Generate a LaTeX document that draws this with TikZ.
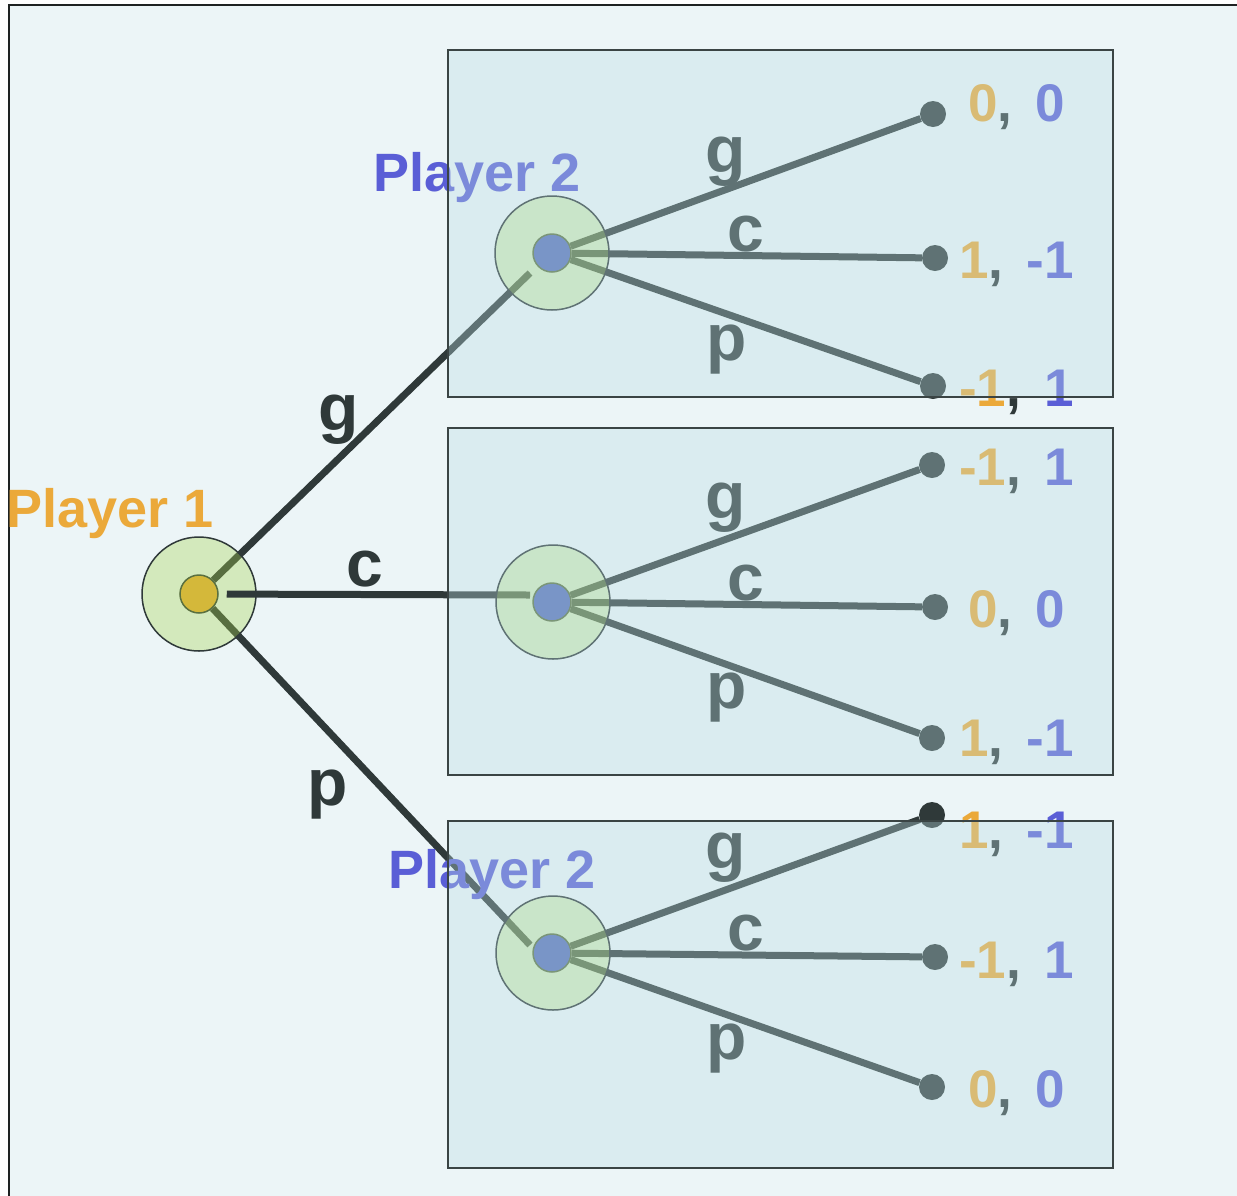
\documentclass[tikz,border=0pt]{standalone}
\usepackage{fontspec}
\setmainfont{Liberation Sans}
\pgfdeclarelayer{back}
\pgfdeclarelayer{lower}
\pgfdeclarelayer{middle}
\pgfdeclarelayer{top}
\pgfsetlayers{back,lower,middle,main,top}

\definecolor{panel}{RGB}{236,245,247}
\definecolor{framecol}{RGB}{30,34,34}
\definecolor{dark}{RGB}{47,57,57}
\definecolor{ringfill}{RGB}{167,211,78}
\definecolor{boxfill}{RGB}{185,222,227}
\definecolor{boxline}{RGB}{58,68,68}
\definecolor{p1col}{RGB}{235,169,58}
\definecolor{p2col}{RGB}{90,94,214}
\definecolor{dotone}{RGB}{212,184,58}
\definecolor{dottwo}{RGB}{88,111,185}
\definecolor{dotline}{RGB}{90,112,64}

\newcommand{\payoffpair}[2]{\textcolor{p1col}{#1}\textcolor{dark}{,}\hspace{23pt}\textcolor{p2col}{#2}}

\tikzset{
  ring/.style={circle, minimum size=114pt, inner sep=0pt, draw=dark, line width=1.5pt,
               fill=ringfill, fill opacity=0.35, draw opacity=1},
  innerdot/.style={circle, minimum size=38pt, inner sep=0pt, draw=dotline, line width=1.5pt},
  leaf/.style={circle, minimum size=26pt, inner sep=0pt, fill=dark},
  edge/.style={draw=dark, line width=7pt},
  playerlab/.style={font=\fontsize{54}{60}\selectfont\bfseries, anchor=base west, inner sep=0pt},
  edgelab/.style={text=dark, font=\fontsize{66}{70}\selectfont\bfseries, anchor=base, inner sep=0pt},
  paylab/.style={font=\fontsize{53}{60}\selectfont\bfseries, anchor=base, inner sep=0pt},
  panelbox/.style={draw=boxline, line width=2pt, fill=boxfill, fill opacity=0.35}
}

\begin{document}
\begin{tikzpicture}[x=1pt,y=-1pt]
\useasboundingbox (0,0) rectangle (1237,1195);
\clip (0,0) rectangle (1237,1195);

% backdrop and frame
\begin{pgfonlayer}{back}
  \fill[white] (0,0) rectangle (1237,1195);
  \fill[panel] (9,5) rectangle (1245,1205);
  \draw[framecol, line width=2.2pt] (9,1205) -- (9,5) -- (1245,5);
\end{pgfonlayer}

% root decision node
\begin{pgfonlayer}{lower}
  \node[ring] (p1) at (199,594) {};
  \node[innerdot, fill=dotone] (p1dot) at (199,594) {};
\end{pgfonlayer}

% second-mover decision nodes
\node[ring] (s1) at (552,253) {};
\node[innerdot, fill=dottwo] (s1dot) at (552,253) {};
\node[ring] (s2) at (553,602) {};
\node[innerdot, fill=dottwo] (s2dot) at (552,602) {};
\node[ring] (s3) at (553,953) {};
\node[innerdot, fill=dottwo] (s3dot) at (552,953) {};

% terminal nodes
\node[leaf] (a1) at (933,114) {};
\node[leaf] (a2) at (935,258) {};
\node[leaf] (a3) at (933,386) {};
\node[leaf] (b1) at (932,465) {};
\node[leaf] (b2) at (935,607) {};
\node[leaf] (b3) at (932,738) {};
\node[leaf] (c1) at (932,815) {};
\node[leaf] (c2) at (935,957) {};
\node[leaf] (c3) at (932,1087) {};

% ends of the root's moves
\coordinate (gend) at (530,273);
\coordinate (cend) at (530,595);
\coordinate (pend) at (530,945);

% moves
\begin{pgfonlayer}{back}
  \draw[edge] (p1dot) -- (gend);
  \draw[edge] (p1dot) -- (pend);
  \draw[edge] (s1dot) -- (a1);
  \draw[edge] (s1dot) -- (a2);
  \draw[edge] (s1dot) -- (a3);
  \draw[edge] (s2dot) -- (b1);
  \draw[edge] (s2dot) -- (b2);
  \draw[edge] (s2dot) -- (b3);
  \draw[edge] (s3dot) -- (c1);
  \draw[edge] (s3dot) -- (c2);
  \draw[edge] (s3dot) -- (c3);
\end{pgfonlayer}
\begin{pgfonlayer}{middle}
  \draw[edge, shorten <=8pt] (p1dot) -- (cend);
\end{pgfonlayer}

% player names
\node[playerlab, text=p1col] (n1) at (6,527) {Player 1};
\node[playerlab, text=p2col] (n2) at (373,191) {Player 2};
\node[playerlab, text=p2col] (n3) at (388,888) {Player 2};

% move labels
\node[edgelab] (lg0) at (339,430) {g};
\node[edgelab] (lc0) at (365,586) {c};
\node[edgelab] (lp0) at (328,805) {p};
\node[edgelab] (lg1) at (726,172) {g};
\node[edgelab] (lc1) at (746,251) {c};
\node[edgelab] (lp1) at (727,360) {p};
\node[edgelab] (lg2) at (726,518) {g};
\node[edgelab] (lc2) at (746,600) {c};
\node[edgelab] (lp2) at (727,708) {p};
\node[edgelab] (lg3) at (726,868) {g};
\node[edgelab] (lc3) at (746,950) {c};
\node[edgelab] (lp3) at (727,1059) {p};

% payoffs
\node[paylab] (v1) at (1016.5,121) {\payoffpair{0}{0}};
\node[paylab] (v2) at (1016.5,278) {\payoffpair{1}{-1}};
\node[paylab] (v3) at (1016.5,406) {\payoffpair{-1}{1}};
\node[paylab] (v4) at (1016.5,485) {\payoffpair{-1}{1}};
\node[paylab] (v5) at (1016.5,627) {\payoffpair{0}{0}};
\node[paylab] (v6) at (1016.5,756) {\payoffpair{1}{-1}};
\node[paylab] (v7) at (1016.5,848) {\payoffpair{1}{-1}};
\node[paylab] (v8) at (1016.5,978) {\payoffpair{-1}{1}};
\node[paylab] (v9) at (1016.5,1107) {\payoffpair{0}{0}};

% subgame panels
\begin{pgfonlayer}{top}
  \draw[panelbox] (448,50) rectangle (1113,397);
  \draw[panelbox] (448,428) rectangle (1113,775);
  \draw[panelbox] (448,821) rectangle (1113,1168);
\end{pgfonlayer}
\end{tikzpicture}
\end{document}
